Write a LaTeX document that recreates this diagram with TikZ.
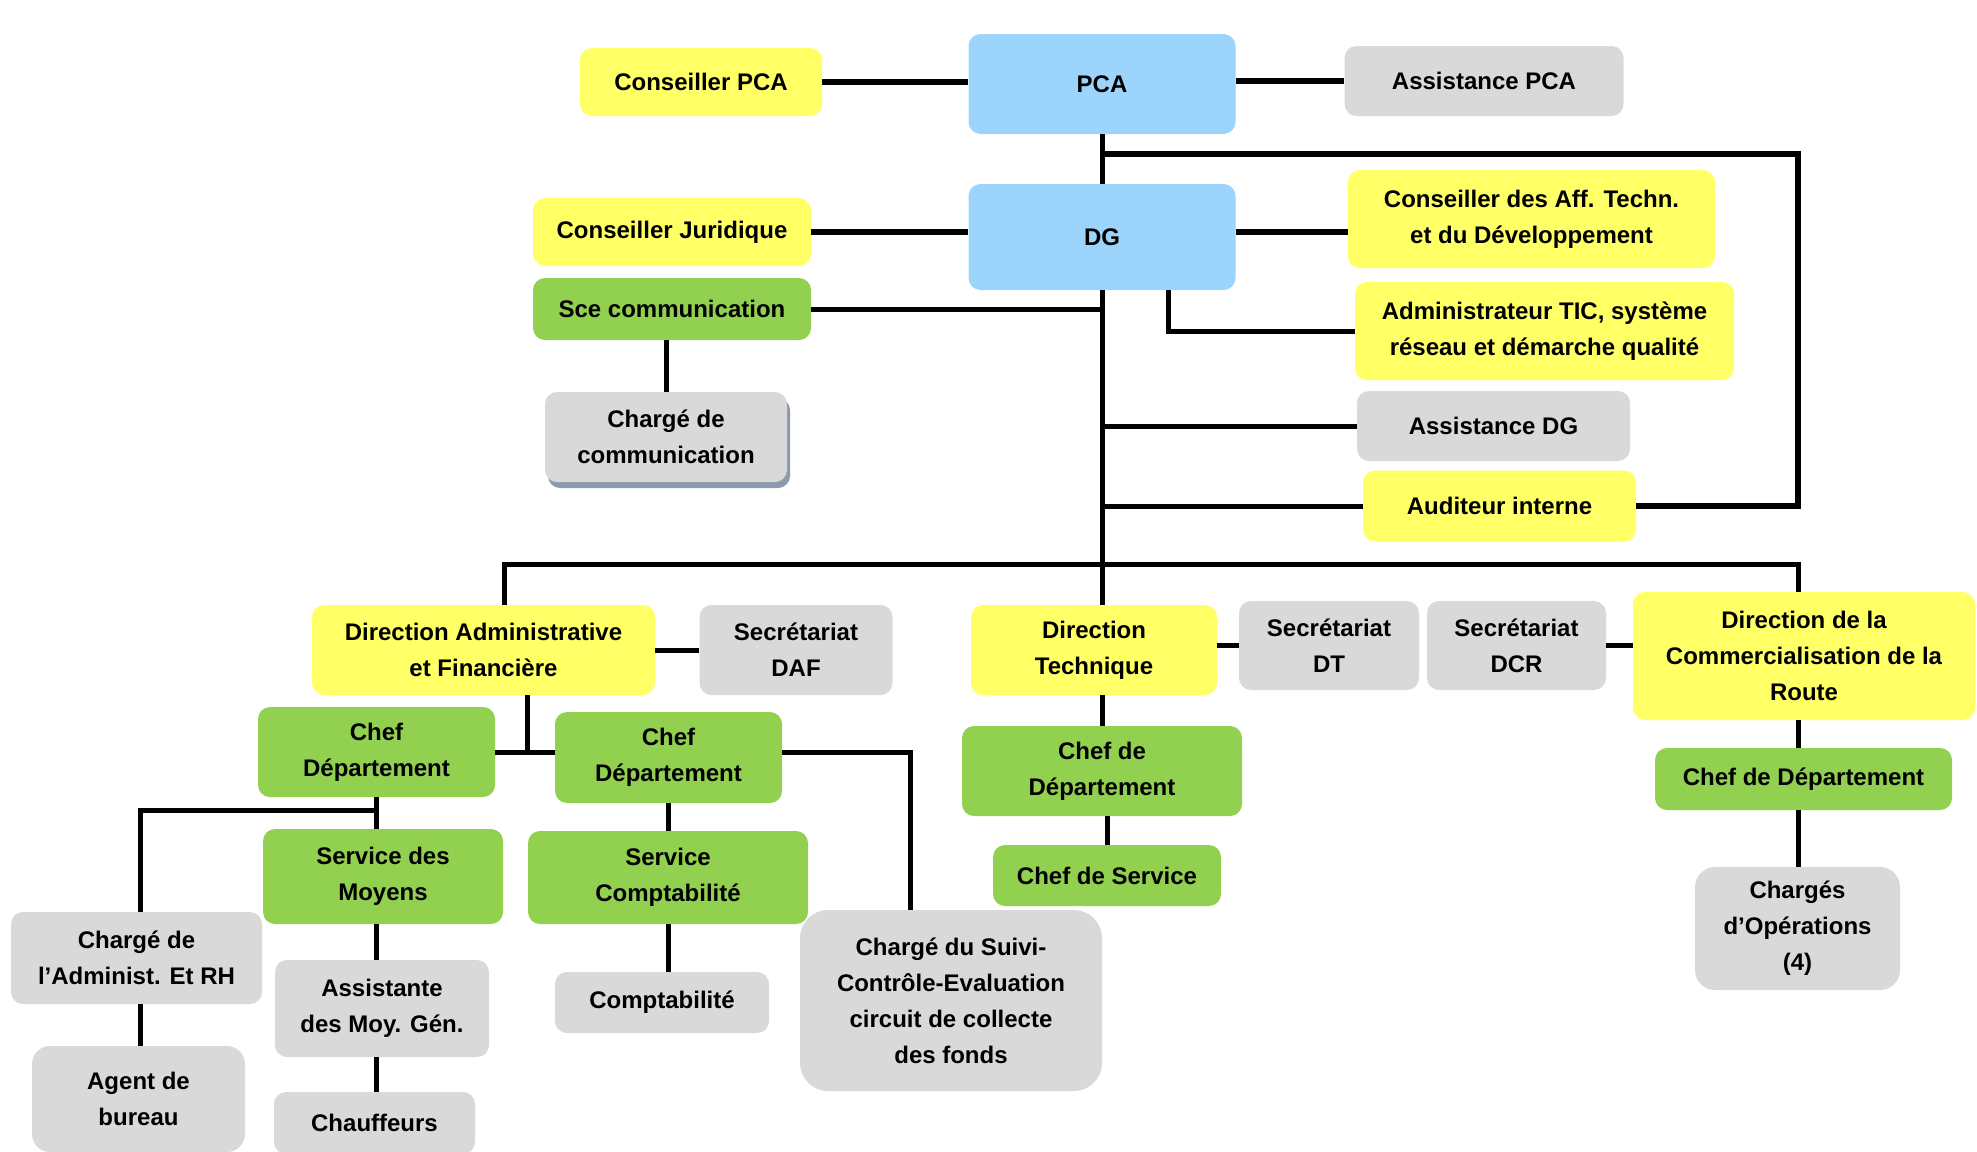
\documentclass[tikz,border=0pt]{standalone}
\usepackage{fontspec}
\setmainfont{Liberation Sans}
\usetikzlibrary{shadows}
\definecolor{cyel}{RGB}{255,255,102}
\definecolor{cblue}{RGB}{157,212,251}
\definecolor{cgreen}{RGB}{146,208,80}
\definecolor{cgrey}{RGB}{217,217,217}
\definecolor{cshadow}{RGB}{140,154,174}
\tikzset{
  box/.style={rectangle, rounded corners=12pt, inner sep=0pt, align=center,
    font=\fontsize{24}{36}\selectfont\bfseries, text=black},
  sz/.style 2 args={minimum width=#1pt, minimum height=#2pt},
  ybox/.style={box, fill=cyel},
  bbox/.style={box, fill=cblue},
  gbox/.style={box, fill=cgreen},
  kbox/.style={box, fill=cgrey},
  conn/.style={draw=black, line width=5pt},
  connT/.style={draw=black, line width=6.5pt},
}
\begin{document}
\begin{tikzpicture}[x=1pt,y=-1pt]
\useasboundingbox (0,0) rectangle (1977,1151);
% top level
\node[ybox, sz={242}{68}] (cpca) at (701,82) {Conseiller PCA};
\node[bbox, sz={267}{100}] (pca) at (1102,84) {PCA};
\node[kbox, sz={279}{70}] (apca) at (1484,81) {Assistance PCA};
\node[ybox, sz={278}{68}] (cjur) at (672,232) {Conseiller Juridique};
\node[bbox, sz={267}{106}] (dg) at (1102,237) {DG};
\node[ybox, sz={367}{98}] (caff) at (1531.5,219) {Conseiller des Aff. Techn.\\et du Développement};
\node[gbox, sz={278}{62}] (scom) at (672,309) {Sce communication};
\node[ybox, sz={379}{98}] (atic) at (1544.5,331) {Administrateur TIC, système\\réseau et démarche qualité};
\node[kbox, sz={242}{90}, copy shadow={shadow xshift=3pt, shadow yshift=-6pt, fill=cshadow, draw=none}] (chcom) at (666,437) {Chargé de\\communication};
\node[kbox, sz={273}{70}] (adg) at (1493.5,426) {Assistance DG};
\node[ybox, sz={273}{71}] (aud) at (1499.5,506) {Auditeur interne};
% directions
\node[ybox, sz={343}{90}] (daf) at (483.5,650) {Direction Administrative\\et Financière};
\node[kbox, sz={193}{90}] (sdaf) at (796,650) {Secrétariat\\DAF};
\node[ybox, sz={246}{90}] (dt) at (1094,650) {Direction\\Technique};
\node[kbox, sz={180}{89}] (sdt) at (1329,645.5) {Secrétariat\\DT};
\node[kbox, sz={179}{89}] (sdcr) at (1516.5,645.5) {Secrétariat\\DCR};
\node[ybox, sz={342}{128}] (dcr) at (1804,656) {Direction de la\\Commercialisation de la\\Route};
% departments
\node[gbox, sz={237}{90}] (cd1) at (376.5,752) {Chef\\Département};
\node[gbox, sz={227}{91}] (cd2) at (668.5,757.5) {Chef\\Département};
\node[gbox, sz={280}{90}] (cddt) at (1102,771) {Chef de\\Département};
\node[gbox, sz={297}{62}] (cddcr) at (1803.5,779) {Chef de Département};
\node[gbox, sz={240}{95}] (smoy) at (383,876.5) {Service des\\Moyens};
\node[gbox, sz={280}{93}] (scpt) at (668,877.5) {Service\\Comptabilité};
\node[gbox, sz={228}{61}] (cserv) at (1107,875.5) {Chef de Service};
% staff
\node[kbox, sz={251}{92}] (cadm) at (136.5,958) {Chargé de\\l’Administ. Et RH};
\node[kbox, sz={214}{97}] (asst) at (382,1008.5) {Assistante\\des Moy. Gén.};
\node[kbox, sz={214}{61}] (compta) at (662,1002.5) {Comptabilité};
\node[kbox, sz={302}{181}, rounded corners=28pt] (csuivi) at (951,1000.5) {Chargé du Suivi-\\Contrôle-Evaluation\\circuit de collecte\\des fonds};
\node[kbox, sz={205}{123}, rounded corners=20pt] (cops) at (1797.5,928.5) {Chargés\\d’Opérations\\(4)};
\node[kbox, sz={213}{106}, rounded corners=18pt] (agent) at (138.5,1099) {Agent de\\bureau};
\node[kbox, sz={201}{62}] (chauf) at (374.5,1123) {Chauffeurs};
% junction coordinates
\coordinate (loopTR) at (1798,154);
\coordinate (busL) at (504,564);
\coordinate (busR) at (1798,564);
\coordinate (dafj) at (527,752);
\coordinate (sj) at (910,752);
\coordinate (aj) at (140,810);
% connectors, top
\draw[connT] (cpca.east) -- (cpca.east -| pca.west);
\draw[connT] (pca.east |- apca.west) -- (apca.west);
\draw[connT] (cjur.east) -- (cjur.east -| dg.west);
\draw[connT] (dg.east |- cjur.east) -- (caff.west |- cjur.east);
\draw[conn] (pca.south) -- (dg.north);
\draw[conn] (dg.south) -- (dg.south |- dt.north);
\draw[connT] (pca.south |- loopTR) -- (loopTR) -- (loopTR |- aud.east) -- (aud.east);
\draw[conn] (scom.east) -- (scom.east -| dg.south);
\draw[conn] (chcom.north |- scom.south) -- (chcom.north);
\draw[conn] ([xshift=66pt]dg.south) |- (atic.west);
\draw[conn] (dg.south |- adg.west) -- (adg.west);
\draw[conn] (dg.south |- aud.west) -- (aud.west);
% bus
\draw[conn] (busL |- daf.north) -- (busL) -- (busR) -- (busR |- dcr.north);
\draw[conn] (daf.east) -- (sdaf.west);
\draw[conn] (dt.east |- sdt.west) -- (sdt.west);
\draw[conn] (sdcr.east) -- (sdcr.east -| dcr.west);
% DAF
\draw[conn] (dafj |- daf.south) -- (dafj);
\draw[conn] (cd1.east) -- (cd2.west |- cd1.east);
\draw[conn] (cd2.east |- sj) -- (sj) -- (sj |- csuivi.north);
\draw[conn] (cd1.south) -- (cd1.south |- smoy.north);
\draw[conn] (cd1.south |- aj) -- (aj) -- (aj |- cadm.north);
\draw[conn] (cd1.south |- smoy.south) -- (cd1.south |- asst.north);
\draw[conn] (cd1.south |- asst.south) -- (cd1.south |- chauf.north);
\draw[conn] (aj |- cadm.south) -- (aj |- agent.north);
\draw[conn] (cd2.south) -- (cd2.south |- scpt.north);
\draw[conn] (scpt.south) -- (scpt.south |- compta.north);
% DT
\draw[conn] (dg.south |- dt.south) -- (dg.south |- cddt.north);
\draw[conn] (cserv.north |- cddt.south) -- (cserv.north);
% DCR
\draw[conn] (busR |- dcr.south) -- (busR |- cddcr.north);
\draw[conn] (busR |- cddcr.south) -- (busR |- cops.north);
\end{tikzpicture}
\end{document}
